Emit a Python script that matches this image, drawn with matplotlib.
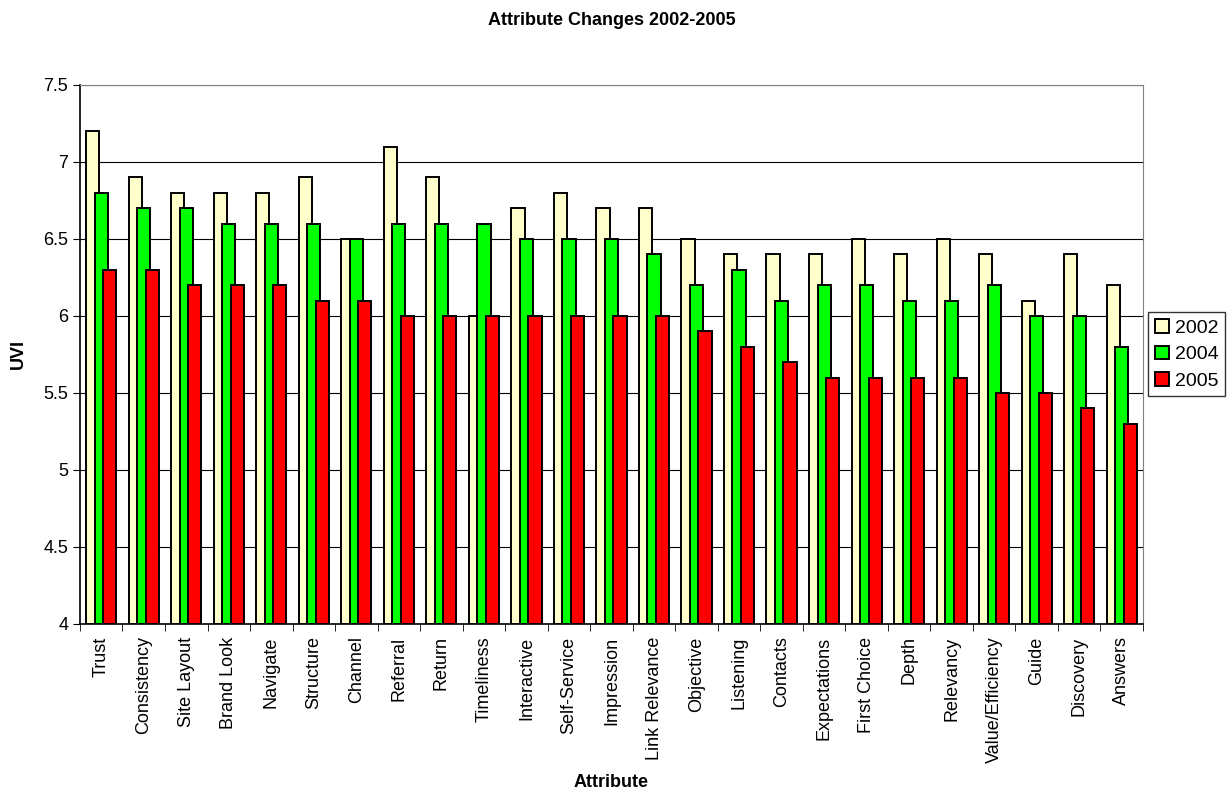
import numpy as np
import matplotlib
matplotlib.use("Agg")
import matplotlib.pyplot as plt

plt.rcParams['font.family'] = ['Liberation Sans', 'DejaVu Sans']

attributes = ["Trust", "Consistency", "Site Layout", "Brand Look", "Navigate",
              "Structure", "Channel", "Referral", "Return", "Timeliness",
              "Interactive", "Self-Service", "Impression", "Link Relevance",
              "Objective", "Listening", "Contacts", "Expectations",
              "First Choice", "Depth", "Relevancy", "Value/Efficiency",
              "Guide", "Discovery", "Answers"]

uvi_2002 = [7.2, 6.9, 6.8, 6.8, 6.8, 6.9, 6.5, 7.1, 6.9, 6.0, 6.7, 6.8, 6.7,
            6.7, 6.5, 6.4, 6.4, 6.4, 6.5, 6.4, 6.5, 6.4, 6.1, 6.4, 6.2]
uvi_2004 = [6.8, 6.7, 6.7, 6.6, 6.6, 6.6, 6.5, 6.6, 6.6, 6.6, 6.5, 6.5, 6.5,
            6.4, 6.2, 6.3, 6.1, 6.2, 6.2, 6.1, 6.1, 6.2, 6.0, 6.0, 5.8]
uvi_2005 = [6.3, 6.3, 6.2, 6.2, 6.2, 6.1, 6.1, 6.0, 6.0, 6.0, 6.0, 6.0, 6.0,
            6.0, 5.9, 5.8, 5.7, 5.6, 5.6, 5.6, 5.6, 5.5, 5.5, 5.4, 5.3]

years = ["2002", "2004", "2005"]
colors = ["#FFFFCC", "#00FF00", "#FF0000"]

fig = plt.figure(figsize=(12.28, 7.97), dpi=100)
ax = fig.add_axes([0.0651, 0.2171, 0.8657, 0.6763])

x = np.arange(len(attributes))
width = 0.31
step = 0.2
base = 4.0
for i, (vals, col, yr) in enumerate(zip([uvi_2002, uvi_2004, uvi_2005], colors, years)):
    heights = np.array(vals) - base
    ax.bar(x + (i - 1) * step, heights, width, bottom=base, color=col,
           edgecolor="black", linewidth=1.4, label=yr, zorder=3 + i)

ax.set_xlim(-0.5, len(attributes) - 0.5)
ax.set_ylim(4, 7.5)
ax.set_yticks(np.arange(4, 7.51, 0.5))
ax.set_yticklabels(["4", "4.5", "5", "5.5", "6", "6.5", "7", "7.5"])
ax.yaxis.grid(True, color="black", linewidth=0.8, zorder=0)

# category labels between boundary ticks
ax.set_xticks(x)
ax.set_xticklabels(attributes, rotation=90, fontsize=13)
ax.tick_params(axis="x", length=0, pad=9)
ax.set_xticks(np.arange(-0.5, len(attributes)), minor=True)
ax.tick_params(axis="x", which="minor", length=5, direction="out", color="black")
ax.tick_params(axis="y", labelsize=13, length=5, direction="out")

for side in ["top", "right"]:
    ax.spines[side].set_color("#808080")
for side in ["left", "bottom"]:
    ax.spines[side].set_color("black")
    ax.spines[side].set_linewidth(1.2)

ax.set_title("Attribute Changes 2002-2005", fontsize=13, fontweight="bold", pad=43)
ax.set_ylabel("UVI", fontsize=13, fontweight="bold", labelpad=12)
ax.set_xlabel("Attribute", fontsize=13, fontweight="bold", labelpad=8)

leg = ax.legend(loc="center left", bbox_to_anchor=(1.005, 0.5), fontsize=14,
                frameon=True, fancybox=False, edgecolor="black",
                handlelength=0.7, handleheight=0.7, handletextpad=0.3,
                borderpad=0.35, labelspacing=0.45, borderaxespad=0)
leg.get_frame().set_linewidth(1.0)

fig.savefig("out.png", dpi=100)
